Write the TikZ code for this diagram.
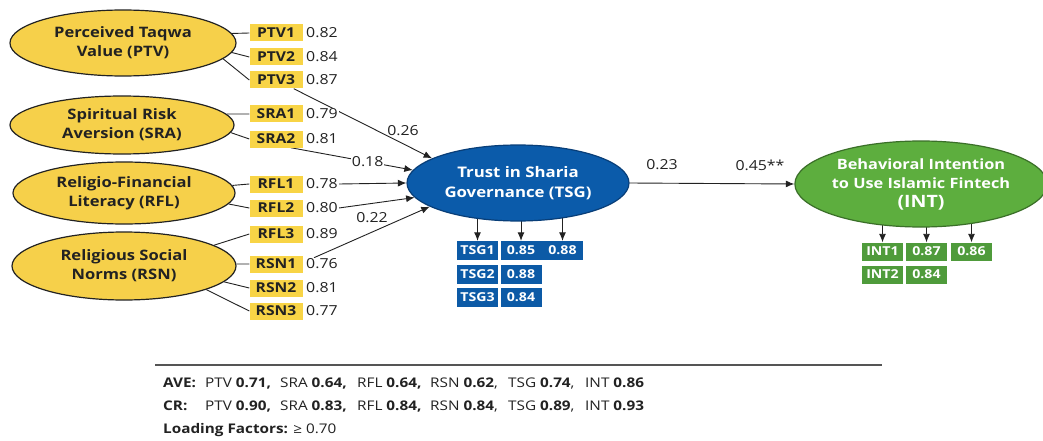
\documentclass[tikz,border=0pt]{standalone}
\usepackage{fontspec}
\setmainfont{Open Sans}[FakeStretch=1.15]
\usetikzlibrary{shapes.geometric,arrows.meta,calc,backgrounds}
\definecolor{inkc}{HTML}{222222}
\definecolor{yel}{HTML}{F6D04A}
\definecolor{yelbox}{HTML}{F8D446}
\definecolor{bluef}{HTML}{0B5BAA}
\definecolor{blued}{HTML}{083E78}
\definecolor{bluebox}{HTML}{0C5AA6}
\definecolor{greenf}{HTML}{5DAE3E}
\definecolor{greend}{HTML}{3A6F28}
\definecolor{greenbox}{HTML}{4F9B3B}
\definecolor{rulec}{HTML}{555555}
\begin{document}
\begin{tikzpicture}[x=1pt,y=-1pt,
  construct/.style={ellipse, draw=inkc, line width=1.2pt, fill=yel, inner sep=0pt,
    align=center, text=inkc, font=\bfseries\fontsize{14.4}{19}\selectfont},
  ind/.style={rectangle, fill=yelbox, minimum width=53pt, minimum height=17pt, inner sep=0pt,
    text=inkc, font=\bfseries\fontsize{13.6}{12}\selectfont},
  load/.style={anchor=west, inner sep=1pt, fill=white, text=inkc,
    font=\fontsize{13.8}{12}\selectfont},
  lab/.style={inner sep=1pt, text=inkc, font=\fontsize{13.8}{12}\selectfont},
  cell/.style={rectangle, minimum width=41pt, minimum height=19pt, inner sep=0pt,
    text=white, font=\bfseries\fontsize{12.3}{12}\selectfont},
  bcell/.style={cell, fill=bluebox},
  gcell/.style={cell, fill=greenbox, minimum height=18pt},
  link/.style={draw=inkc, line width=0.9pt},
  arr/.style={link, -{Latex[length=8.5pt,width=7pt]}},
  sumtxt/.style={anchor=base west, inner sep=0pt, text=inkc, font=\fontsize{13.3}{12}\selectfont}
]
\useasboundingbox (0,0) rectangle (1043,441);

% exogenous constructs
\node[construct, minimum width=226pt, minimum height=66pt] (ptv) at (123,43) {Perceived Taqwa\\Value (PTV)};
\node[construct, minimum width=224pt, minimum height=58pt] (sra) at (122,125) {Spiritual Risk\\Aversion (SRA)};
\node[construct, minimum width=222pt, minimum height=62pt] (rfl) at (124,193) {Religio-Financial\\Literacy (RFL)};
\node[construct, minimum width=224pt, minimum height=68pt] (rsn) at (124,266) {Religious Social\\Norms (RSN)};

% indicators with loadings
\foreach \nm/\lbl/\yy/\val in {ptv1/PTV1/33/0.82, ptv2/PTV2/57/0.84, ptv3/PTV3/80/0.87,
  sra1/SRA1/114/0.79, sra2/SRA2/139/0.81,
  rfl1/RFL1/184/0.78, rfl2/RFL2/208/0.80, rfl3/RFL3/234/0.89,
  rsn1/RSN1/264/0.76, rsn2/RSN2/288/0.81, rsn3/RSN3/311/0.77}{
  \node[ind] (\nm) at (276,\yy) {\lbl};
  \node[load] (v-\nm) at (305,\yy) {\val};
}

% mediator and outcome
\node[ellipse, fill=bluef, draw=blued, line width=1.2pt, minimum width=222pt, minimum height=76pt,
  inner sep=0pt, align=center, text=white, font=\bfseries\fontsize{14.6}{20}\selectfont]
  (tsg) at (518,183) {Trust in Sharia\\Governance (TSG)};
\node[ellipse, fill=greenf, draw=greend, line width=1.2pt, minimum width=238pt, minimum height=86pt,
  inner sep=0pt, align=center, text=white, font=\bfseries\fontsize{14.2}{19}\selectfont]
  (int) at (921,184) {Behavioral Intention\\to Use Islamic Fintech\\{\fontsize{17}{19}\selectfont (INT)}};

% TSG indicator table
\node[bcell] (t1) at (477.5,250.5) {TSG1};
\node[bcell] (t1a) at (521,250.5) {0.85};
\node[bcell] (t1b) at (562.5,250.5) {0.88};
\node[bcell] (t2) at (477.5,274) {TSG2};
\node[bcell] (t2a) at (521,274) {0.88};
\node[bcell] (t3) at (477.5,297.5) {TSG3};
\node[bcell] (t3a) at (521,297.5) {0.84};

% INT indicator table
\node[gcell] (i1) at (882.5,251.5) {INT1};
\node[gcell] (i1a) at (926.5,251.5) {0.87};
\node[gcell] (i1b) at (971.5,251.5) {0.86};
\node[gcell] (i2) at (882.5,274.5) {INT2};
\node[gcell] (i2a) at (926.5,274.5) {0.84};

% path coefficients
\node[lab] (c1) at (403,131) {0.26};
\node[lab] (c3) at (372,218) {0.22};
\node[lab] (c4) at (662,165) {0.23};
\node[lab] (c5) at (760,165) {0.45**};

\begin{pgfonlayer}{background}
  \fill[white] (0,0) rectangle (1043,441);
  % measurement links
  \draw[link] (ptv.5) -- (ptv1.west);
  \draw[link] (ptv.-5) -- (ptv2.west);
  \draw[link] (ptv.-9) -- (ptv3.west);
  \draw[link] (sra.6) -- (sra1.west);
  \draw[link] (sra.-4) -- (sra2.west);
  \draw[link] (rfl.4) -- (rfl1.west);
  \draw[link] (rfl.-6) -- (rfl2.west);
  \draw[link] (rsn.13) -- (rfl3.west);
  \draw[link] (rsn.1) -- (rsn1.west);
  \draw[link] (rsn.-9) -- (rsn2.west);
  \draw[link] (rsn.-16) -- (rsn3.west);
  % structural paths
  \draw[arr] ($(ptv3.south east)+(-9,0)$) -- (tsg.164);
  \draw[arr] ($(sra2.south east)+(-12,0)$) -- node[lab, fill=white, pos=0.63] (c2) {0.18} (tsg.173);
  \draw[arr] (v-rfl1.east) -- (tsg.west);
  \draw[arr] (v-rfl2.east) -- (tsg.188);
  \draw[arr] ($(v-rsn1.north west)+(9,0)$) -- (tsg.195);
  \draw[arr] (tsg.east) -- (int.west);
  % reflective indicators of TSG and INT
  \draw[arr] (tsg.center -| t1) -- (t1.north);
  \draw[arr] (tsg.center -| t1a) -- (t1a.north);
  \draw[arr] (tsg.center -| t1b) -- (t1b.north);
  \draw[arr] (int.center -| i1) -- (i1.north);
  \draw[arr] (int.center -| i1a) -- (i1a.north);
  \draw[arr] (int.center -| i1b) -- (i1b.north);
\end{pgfonlayer}

% reliability summary
\draw[rulec, line width=1.2pt] (155,365) -- (882,365);
\node[sumtxt] (ave) at (163,387) {\bfseries AVE:};
\node[sumtxt] (a1) at (205,387) {PTV \textbf{0.71,}};
\node[sumtxt] (a2) at (280,387) {SRA \textbf{0.64,}};
\node[sumtxt] (a3) at (357,387) {RFL \textbf{0.64,}};
\node[sumtxt] (a4) at (430,387) {RSN \textbf{0.62},};
\node[sumtxt] (a5) at (508,387) {TSG \textbf{0.74},};
\node[sumtxt] (a6) at (585,387) {INT \textbf{0.86}};
\node[sumtxt] (cr) at (163,410) {\bfseries CR:};
\node[sumtxt] (r1) at (205,410) {PTV \textbf{0.90,}};
\node[sumtxt] (r2) at (280,410) {SRA \textbf{0.83,}};
\node[sumtxt] (r3) at (357,410) {RFL \textbf{0.84,}};
\node[sumtxt] (r4) at (430,410) {RSN \textbf{0.84},};
\node[sumtxt] (r5) at (508,410) {TSG \textbf{0.89},};
\node[sumtxt] (r6) at (585,410) {INT \textbf{0.93}};
\node[sumtxt] (lf) at (163,433) {\textbf{Loading Factors:} ≥ 0.70};
\end{tikzpicture}
\end{document}
